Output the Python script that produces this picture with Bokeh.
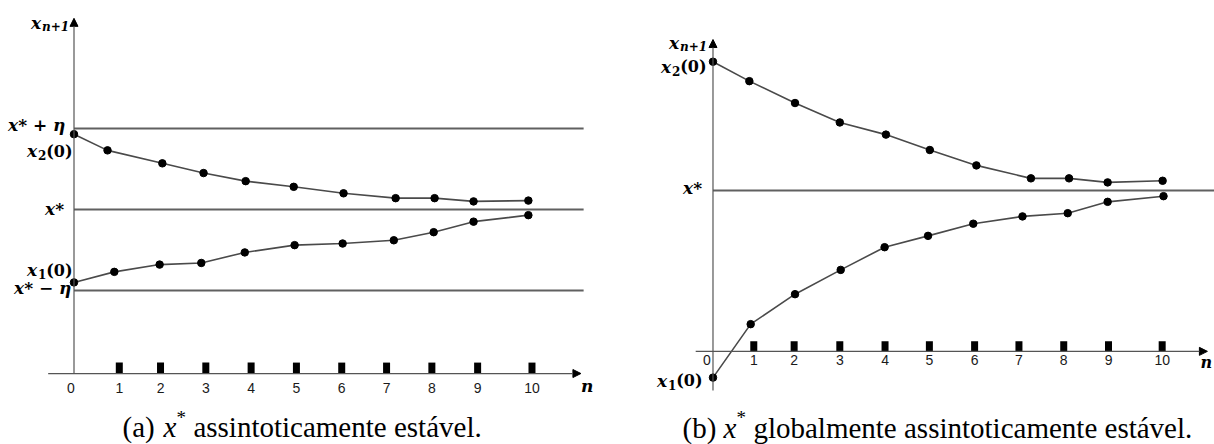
from bokeh.plotting import figure
from bokeh.layouts import row
from bokeh.models import Range1d, Arrow, NormalHead
from bokeh.core.properties import value
from bokeh.embed import file_html
from bokeh.resources import INLINE

# ---------------- data ----------------
# Panel (a): x* asymptotically stable (levels in units of eta, x* = 0)
ETA = 1.0
N_A_UP = [0.0, 0.74, 1.95, 2.86, 3.79, 4.85, 5.95, 7.10, 7.96, 8.82, 10.03]
Y_A_UP = [0.93, 0.73, 0.57, 0.45, 0.35, 0.28, 0.20, 0.14, 0.14, 0.10, 0.11]
N_A_LO = [0.0, 0.89, 1.89, 2.81, 3.77, 4.87, 5.93, 7.06, 7.94, 8.82, 10.03]
Y_A_LO = [-0.90, -0.77, -0.68, -0.66, -0.53, -0.44, -0.42, -0.38, -0.28, -0.15, -0.07]
TICKS_A = [1.00, 1.91, 2.91, 3.91, 4.91, 5.91, 6.90, 7.90, 8.91, 10.11]

# Panel (b): x* globally asymptotically stable
N_B_UP = [0.0, 0.82, 1.85, 2.86, 3.90, 4.89, 5.94, 7.17, 8.03, 8.90, 10.14]
Y_B_UP = [1.59, 1.35, 1.08, 0.84, 0.69, 0.50, 0.31, 0.15, 0.15, 0.10, 0.12]
N_B_LO = [0.0, 0.85, 1.85, 2.88, 3.87, 4.85, 5.87, 6.98, 8.00, 8.90, 10.16]
Y_B_LO = [-2.31, -1.65, -1.28, -0.98, -0.70, -0.56, -0.41, -0.32, -0.28, -0.14, -0.07]
TICKS_B = [0.92, 1.83, 2.86, 3.88, 4.88, 5.90, 6.90, 7.91, 8.92, 10.13]

TICK_LABELS = ["1", "2", "3", "4", "5", "6", "7", "8", "9", "10"]

# ---------------- styling ----------------
MATH_FONT = "DejaVu Serif"
TICK_FONT = "Liberation Sans"
CAPTION_FONT = "Liberation Serif"
AXIS_COLOR = "#555555"
LEVEL_COLOR = "#606060"
PATH_COLOR = "#4a4a4a"


def make_fig(xr, yr):
    p = figure(width=607, height=444, x_range=Range1d(*xr), y_range=Range1d(*yr),
               output_backend="svg", toolbar_location=None, min_border=0,
               x_axis_type=None, y_axis_type=None)
    p.grid.visible = False
    p.outline_line_color = None
    p.background_fill_color = "white"
    p.border_fill_color = "white"
    return p


def axes(p, x0, x1, y_axis_y, y0, y1):
    head = dict(size=8, fill_color="black", line_color="black", line_width=1)
    p.add_layout(Arrow(end=NormalHead(**head), x_start=x0, y_start=y_axis_y,
                       x_end=x1, y_end=y_axis_y, line_color=AXIS_COLOR, line_width=1.2))
    p.add_layout(Arrow(end=NormalHead(**head), x_start=0, y_start=y0,
                       x_end=0, y_end=y1, line_color=AXIS_COLOR, line_width=1.2))


def ticks(p, positions, labels, axis_y, mark_h, zero_dx, label_dy):
    p.segment(x0=positions, y0=[axis_y] * len(positions), x1=positions,
              y1=[axis_y + mark_h] * len(positions), line_color="black",
              line_width=7, line_cap="butt")
    p.text(x=positions, y=[axis_y] * len(positions), text=labels,
           y_offset=label_dy, text_align="center", text_baseline="middle",
           text_font=value(TICK_FONT), text_font_size="14px", text_color="#1a1a1a")
    p.text(x=[0], y=[axis_y], text=["0"], x_offset=zero_dx, y_offset=label_dy,
           text_align="center", text_baseline="middle",
           text_font=value(TICK_FONT), text_font_size="14px", text_color="#1a1a1a")


def pieces(p, x, y, dx, dy, parts, font):
    # parts: (text, font size px, baseline shift down px, advance px, style)
    cur = dx
    for txt, size, drop, adv, style in parts:
        p.text(x=[x], y=[y], text=[txt], x_offset=cur, y_offset=dy + drop,
               text_align="left", text_baseline="alphabetic",
               text_font=value(font), text_font_style=style,
               text_font_size=f"{size}px", text_color="black")
        cur += adv


def math_label(p, x, y, dx, dy, parts):
    pieces(p, x, y, dx, dy - 4, parts, MATH_FONT)


BI = "bold italic"
X_NP1 = [("x", 17, 0, 11.0, BI), ("n+1", 12, 4, 0, BI)]
X2_0 = [("x", 17, 0, 11.0, BI), ("2", 12, 4, 8.2, "bold"), ("(0)", 16, 0, 0, "bold")]
X1_0 = [("x", 17, 0, 11.0, BI), ("1", 12, 4, 8.2, "bold"), ("(0)", 16, 0, 0, "bold")]
XSTAR = [("x*", 17, 0, 0, BI)]


def trajectories(p, xs_up, ys_up, xs_lo, ys_lo):
    for xs, ys in ((xs_up, ys_up), (xs_lo, ys_lo)):
        p.line(xs, ys, line_color=PATH_COLOR, line_width=1.6)
        p.scatter(xs, ys, size=7.5, color="black")


def caption(p, y, dx, tag, rest):
    # caption line starts dx px from the figure's left edge
    x0 = p.x_range.start
    pieces(p, x0, y, dx, 0, [(tag, 29, 0, 41.0, "normal"),
                             ("x", 29, 0, 12.9, "italic"),
                             ("*", 19, -10, 17.0, "normal"),
                             (rest, 29, 0, 0, "normal")], CAPTION_FONT)


# ---------------- panel (a) ----------------
pa = make_fig((-1.6225, 11.777), (-2.9012, 2.5802))
AXIS_Y_A = -2.025
TOP_A = 2.36
CAP_Y_A = -2.69
for lvl in (ETA, 0.0, -ETA):
    pa.line([0, 11.25], [lvl, lvl], line_color=LEVEL_COLOR, line_width=2)
axes(pa, -0.57, 11.19, AXIS_Y_A, AXIS_Y_A, TOP_A)
ticks(pa, TICKS_A, TICK_LABELS, AXIS_Y_A, 0.135, -3, 14.5)
trajectories(pa, N_A_UP, Y_A_UP, N_A_LO, Y_A_LO)

math_label(pa, 0, TOP_A, -43, 9, X_NP1)
math_label(pa, 0, ETA, -66, 1, [("x* + η", 17, 0, 0, BI)])
math_label(pa, 0, Y_A_UP[0], -47, 21, X2_0)
math_label(pa, 0, 0.0, -29, 4, XSTAR)
math_label(pa, 0, Y_A_LO[0], -47, -8, X1_0)
math_label(pa, 0, -ETA, -60, 1, [("x* − η", 17, 0, 0, BI)])
math_label(pa, 11.19, AXIS_Y_A, 0, 16, [("n", 17, 0, 0, BI)])

caption(pa, CAP_Y_A, 122, "(a)", "assintoticamente estável.")

# ---------------- panel (b) ----------------
pb = make_fig((-2.379, 11.31), (-3.1358, 2.3457))
AXIS_Y_B = -1.986
TOP_B = 1.864
BOTTOM_B = -2.47
CAP_Y_B = -2.926
pb.line([0, 11.4], [0.0, 0.0], line_color=LEVEL_COLOR, line_width=2)
axes(pb, -0.39, 11.15, AXIS_Y_B, BOTTOM_B, TOP_B)
ticks(pb, TICKS_B, TICK_LABELS, AXIS_Y_B, 0.125, -6, 9)
trajectories(pb, N_B_UP, Y_B_UP, N_B_LO, Y_B_LO)

math_label(pb, 0, TOP_B, -44, 7, X_NP1)
math_label(pb, 0, Y_B_UP[0], -52, 9, X2_0)
math_label(pb, 0, 0.0, -30, 1, XSTAR)
math_label(pb, 0, Y_B_LO[0], -56, 7, X1_0)
math_label(pb, 11.15, AXIS_Y_B, -7, 15, [("n", 16, 0, 0, BI)])

caption(pb, CAP_Y_B, 75, "(b)", "globalmente assintoticamente estável.")

layout = row(pa, pb, spacing=0)
open("out.html", "w").write(file_html(layout, INLINE))
